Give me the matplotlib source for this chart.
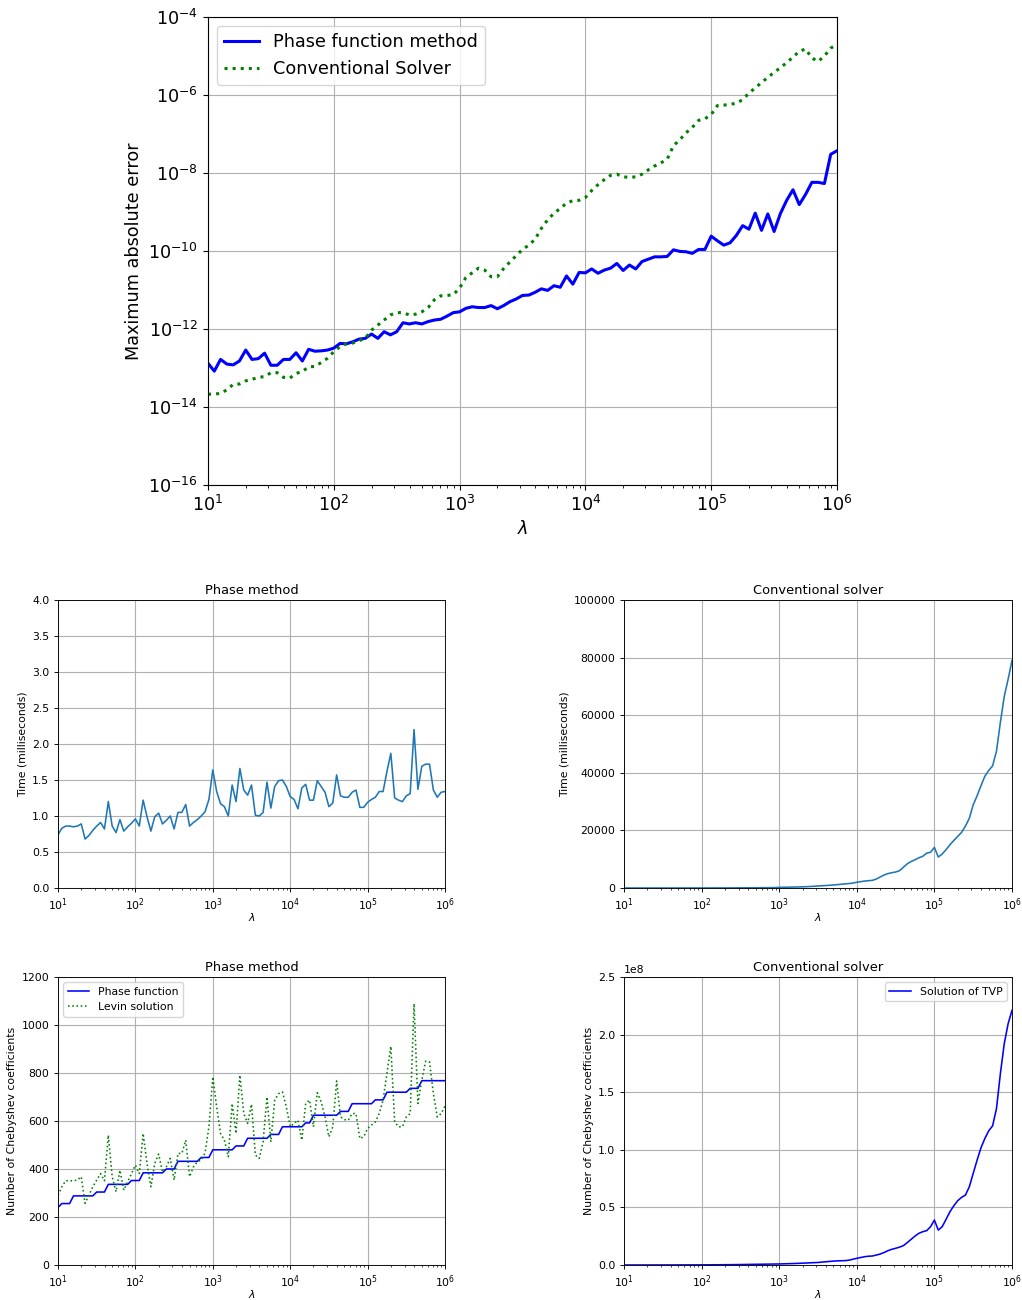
import numpy as np
import matplotlib
matplotlib.use("Agg")
import matplotlib.pyplot as plt
from matplotlib.ticker import NullLocator, LogLocator

# ---------------- data ----------------
lam = np.logspace(1, 6, 101)

# top chart: log10 of maximum absolute error
phase_err_log10 = [
    -12.88, -13.08, -12.78, -12.90, -12.92, -12.82, -12.54, -12.78, -12.76, -12.62,
    -12.93, -12.93, -12.78, -12.78, -12.61, -12.82, -12.52, -12.57, -12.56, -12.54,
    -12.49, -12.37, -12.38, -12.33, -12.26, -12.24, -12.13, -12.24, -12.07, -12.15,
    -12.07, -11.84, -11.87, -11.84, -11.87, -11.81, -11.77, -11.75, -11.67, -11.58,
    -11.56, -11.47, -11.43, -11.45, -11.45, -11.40, -11.48, -11.40, -11.30, -11.23,
    -11.14, -11.13, -11.06, -10.97, -11.01, -10.89, -10.93, -10.64, -10.85, -10.55,
    -10.56, -10.46, -10.57, -10.49, -10.44, -10.32, -10.50, -10.36, -10.46, -10.27,
    -10.21, -10.15, -10.15, -10.14, -9.97, -10.01, -10.02, -10.06, -9.96, -9.96,
    -9.62, -9.74, -9.85, -9.79, -9.60, -9.35, -9.44, -9.03, -9.47, -9.05,
    -9.50, -9.04, -8.70, -8.43, -8.81, -8.55, -8.24, -8.24, -8.27, -7.52,
    -7.43]
conv_err_log10 = [
    -13.67, -13.67, -13.65, -13.56, -13.42, -13.41, -13.33, -13.29, -13.24, -13.22,
    -13.12, -13.12, -13.24, -13.26, -13.14, -13.09, -12.97, -12.96, -12.86, -12.75,
    -12.58, -12.45, -12.38, -12.36, -12.30, -12.24, -12.03, -11.90, -11.77, -11.64,
    -11.58, -11.58, -11.64, -11.62, -11.56, -11.45, -11.25, -11.15, -11.14, -11.12,
    -10.95, -10.68, -10.56, -10.44, -10.49, -10.66, -10.66, -10.45, -10.28, -10.12,
    -9.96, -9.85, -9.70, -9.42, -9.20, -9.03, -8.91, -8.77, -8.71, -8.70,
    -8.63, -8.45, -8.30, -8.17, -8.06, -8.03, -8.10, -8.11, -8.10, -8.03,
    -7.92, -7.82, -7.74, -7.65, -7.30, -7.15, -6.97, -6.83, -6.65, -6.61,
    -6.50, -6.27, -6.26, -6.24, -6.21, -6.12, -5.95, -5.82, -5.68, -5.55,
    -5.42, -5.30, -5.17, -5.03, -4.88, -4.82, -5.05, -5.14, -5.00, -4.80,
    -4.70]

# middle row: run times (milliseconds)
phase_time = [
    0.74, 0.83, 0.86, 0.86, 0.85, 0.86, 0.89, 0.68, 0.73, 0.80,
    0.86, 0.91, 0.82, 1.20, 0.86, 0.77, 0.95, 0.79, 0.85, 0.90,
    0.96, 0.86, 1.22, 0.99, 0.79, 0.99, 1.04, 0.89, 0.94, 1.00,
    0.82, 1.05, 1.05, 1.16, 0.86, 0.91, 0.95, 1.00, 1.06, 1.23,
    1.64, 1.34, 1.17, 1.13, 1.00, 1.43, 1.20, 1.66, 1.36, 1.29,
    1.43, 1.01, 1.00, 1.05, 1.47, 1.11, 1.41, 1.49, 1.50, 1.41,
    1.27, 1.23, 1.10, 1.39, 1.44, 1.22, 1.22, 1.49, 1.41, 1.33,
    1.13, 1.18, 1.57, 1.28, 1.26, 1.26, 1.33, 1.36, 1.12, 1.12,
    1.19, 1.23, 1.26, 1.34, 1.34, 1.62, 1.87, 1.25, 1.22, 1.20,
    1.28, 1.31, 2.20, 1.37, 1.69, 1.72, 1.72, 1.36, 1.26, 1.33,
    1.34]
conv_time = [
    2, 2, 3, 3, 3, 4, 4, 5, 5, 6,
    6, 7, 8, 9, 10, 11, 12, 14, 15, 17,
    19, 21, 23, 26, 29, 32, 36, 40, 45, 50,
    56, 63, 70, 79, 88, 99, 110, 124, 139, 155,
    230, 250, 270, 300, 330, 370, 410, 460, 520, 600,
    700, 780, 860, 950, 1050, 1180, 1300, 1420, 1550, 1700,
    2000, 2200, 2400, 2550, 2650, 3100, 3800, 4500, 5000, 5300,
    5550, 6000, 7200, 8400, 9200, 9800, 10500, 11000, 12100, 12400,
    14100, 10750, 11800, 13300, 15000, 16500, 17900, 19300, 21500, 24200,
    28900, 32000, 35500, 38800, 40800, 42400, 47500, 57500, 66500, 72500,
    79000]

# bottom row: number of Chebyshev coefficients
phase_coefs = [
    240, 256, 256, 256, 288, 288, 288, 288, 288, 288,
    304, 304, 304, 336, 336, 336, 336, 336, 336, 352,
    352, 352, 384, 384, 384, 384, 384, 384, 400, 400,
    400, 432, 432, 432, 432, 432, 432, 448, 448, 448,
    480, 480, 480, 480, 480, 480, 496, 496, 496, 528,
    528, 528, 528, 528, 528, 544, 544, 544, 576, 576,
    576, 576, 576, 576, 592, 592, 624, 624, 624, 624,
    624, 624, 624, 640, 640, 640, 672, 672, 672, 672,
    672, 672, 688, 688, 688, 720, 720, 720, 720, 720,
    720, 736, 736, 736, 768, 768, 768, 768, 768, 768,
    768]
levin_coefs = [
    291, 326, 351, 351, 351, 354, 368, 257, 291, 326,
    354, 381, 351, 541, 368, 305, 395, 312, 347, 381,
    416, 381, 548, 423, 326, 423, 462, 388, 409, 444,
    354, 465, 465, 520, 368, 409, 430, 437, 467, 576,
    784, 659, 548, 520, 451, 673, 548, 791, 631, 590,
    670, 458, 444, 513, 700, 513, 687, 714, 721, 659,
    576, 590, 603, 520, 673, 687, 576, 718, 680, 617,
    534, 576, 767, 617, 606, 603, 631, 631, 527, 534,
    569, 583, 596, 631, 687, 798, 911, 596, 576, 576,
    617, 631, 1089, 673, 770, 849, 846, 714, 617, 631,
    662]
tvp_coefs = [
    0.010e6, 0.012e6, 0.014e6, 0.016e6, 0.018e6, 0.020e6, 0.023e6, 0.026e6, 0.029e6, 0.033e6,
    0.037e6, 0.042e6, 0.047e6, 0.053e6, 0.060e6, 0.067e6, 0.076e6, 0.085e6, 0.096e6, 0.108e6,
    0.12e6, 0.135e6, 0.152e6, 0.171e6, 0.192e6, 0.216e6, 0.243e6, 0.273e6, 0.307e6, 0.345e6,
    0.388e6, 0.436e6, 0.49e6, 0.55e6, 0.60e6, 0.65e6, 0.70e6, 0.75e6, 0.80e6, 0.85e6,
    0.9e6, 1.0e6, 1.1e6, 1.2e6, 1.3e6, 1.45e6, 1.6e6, 1.75e6, 1.9e6, 2.05e6,
    2.2e6, 2.5e6, 2.8e6, 3.1e6, 3.4e6, 3.6e6, 3.7e6, 3.8e6, 4.2e6, 5.0e6,
    5.8e6, 6.5e6, 7.2e6, 7.6e6, 7.8e6, 8.6e6, 9.5e6, 10.8e6, 12.4e6, 13.6e6,
    14.5e6, 15.5e6, 16.8e6, 19.4e6, 22.3e6, 25.1e6, 27.5e6, 28.9e6, 29.8e6, 33.2e6,
    39.0e6, 30.3e6, 33.2e6, 39.6e6, 46.2e6, 51.4e6, 55.8e6, 58.7e6, 60.7e6, 67.9e6,
    79.5e6, 91.0e6, 101.7e6, 109.8e6, 116.5e6, 120.8e6, 135.8e6, 166.0e6, 192.0e6, 209.5e6,
    221.0e6]

xticks = [1e1, 1e2, 1e3, 1e4, 1e5, 1e6]

# ---------------- figure ----------------
W, H = 1022, 1300
fig = plt.figure(figsize=(W / 100, H / 100), dpi=100)


def px_axes(x0, x1, y0, y1):
    return fig.add_axes([x0 / W, (H - y1) / H, (x1 - x0) / W, (y1 - y0) / H])


grid_kw = dict(color="#b0b0b0", linewidth=0.8)

# ---- top chart ----
ax = px_axes(208, 837, 17, 485)
fs_top = 12.7
ax.plot(lam, 10.0 ** np.array(phase_err_log10), color="b", lw=2.2,
        label="Phase function method")
ax.plot(lam, 10.0 ** np.array(conv_err_log10), color="g", lw=2.2, ls=":",
        label="Conventional Solver")
ax.set_xscale("log")
ax.set_yscale("log")
ax.set_xlim(1e1, 1e6)
ax.set_ylim(1e-16, 1e-4)
ax.set_xticks(xticks)
ax.set_yticks([1e-16, 1e-14, 1e-12, 1e-10, 1e-8, 1e-6, 1e-4])
ax.yaxis.set_minor_locator(NullLocator())
ax.xaxis.set_minor_locator(LogLocator(base=10, subs=np.arange(2, 10), numticks=20))
ax.grid(True, which="major", **grid_kw)
ax.tick_params(labelsize=fs_top)
ax.set_xlabel(r"$\lambda$", fontsize=fs_top)
ax.set_ylabel("Maximum absolute error", fontsize=fs_top)
ax.legend(loc="upper left", fontsize=fs_top)

# ---- common settings for small charts ----
fs_tick = 7.8
fs_lab = 7.8
fs_title = 9.4
lw_small = 1.15


def setup_small(a, title, ylabel):
    a.set_xscale("log")
    a.set_xlim(1e1, 1e6)
    a.set_xticks(xticks)
    a.xaxis.set_minor_locator(LogLocator(base=10, subs=np.arange(2, 10), numticks=20))
    a.grid(True, which="major", **grid_kw)
    a.tick_params(labelsize=fs_tick, length=2.8, width=0.65)
    a.tick_params(which="minor", length=1.6, width=0.5)
    a.set_title(title, fontsize=fs_title, pad=4)
    a.set_xlabel(r"$\lambda$", fontsize=fs_lab, labelpad=-2)
    a.set_ylabel(ylabel, fontsize=fs_lab, labelpad=3)
    for s in a.spines.values():
        s.set_linewidth(0.65)


# ---- middle left ----
a1 = px_axes(58, 445, 600, 888)
a1.plot(lam, phase_time, color="C0", lw=lw_small)
setup_small(a1, "Phase method", "Time (milliseconds)")
a1.set_ylim(0, 4.0)
a1.set_yticks(np.arange(0, 4.01, 0.5))

# ---- middle right ----
a2 = px_axes(624, 1012, 600, 888)
a2.plot(lam, conv_time, color="C0", lw=lw_small)
setup_small(a2, "Conventional solver", "Time (milliseconds)")
a2.set_ylim(0, 100000)
a2.set_yticks(np.arange(0, 100001, 20000))

# ---- bottom left ----
a3 = px_axes(58, 445, 977, 1265)
a3.plot(lam, phase_coefs, color="b", lw=lw_small, label="Phase function")
a3.plot(lam, levin_coefs, color="g", lw=lw_small, ls=":", label="Levin solution")
setup_small(a3, "Phase method", "Number of Chebyshev coefficients")
a3.set_ylim(0, 1200)
a3.set_yticks(np.arange(0, 1201, 200))
a3.legend(loc="upper left", fontsize=fs_lab)

# ---- bottom right ----
a4 = px_axes(624, 1012, 977, 1265)
a4.plot(lam, tvp_coefs, color="b", lw=lw_small, label="Solution of TVP")
setup_small(a4, "Conventional solver", "Number of Chebyshev coefficients")
a4.set_ylim(0, 2.5e8)
a4.set_yticks(np.arange(0, 2.51e8, 0.5e8))
a4.yaxis.get_offset_text().set_fontsize(fs_tick)
a4.legend(loc="upper right", fontsize=fs_lab)

fig.savefig("out.png", dpi=100)
